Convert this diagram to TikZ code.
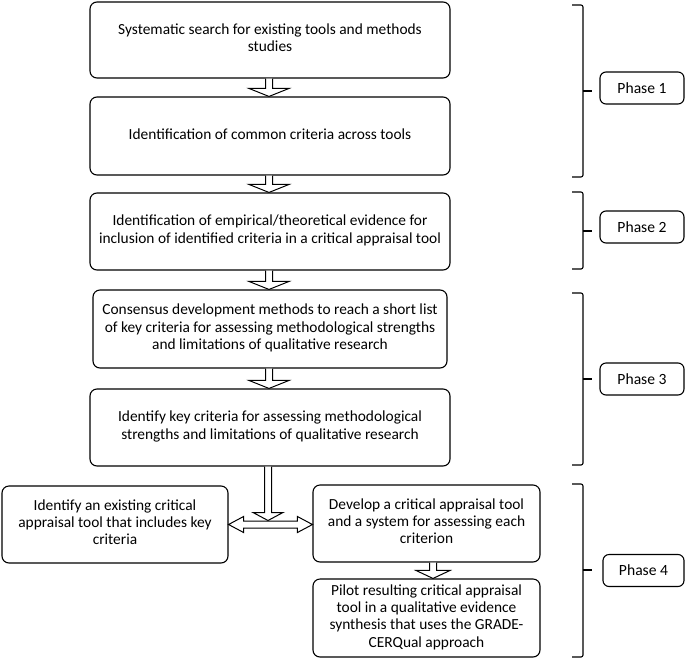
\documentclass[tikz,border=0pt]{standalone}
\usepackage{fontspec}
\setmainfont{Carlito}
\usetikzlibrary{calc}
\tikzset{
  box/.style={draw, rounded corners=7pt, line width=1.1pt, align=center,
    font=\fontsize{15.4}{17.3}\selectfont, inner sep=0pt,
    execute at end node={\rule[-4.5pt]{0pt}{0pt}}},
  phasebox/.style={draw, rounded corners=6pt, line width=1.1pt, align=center,
    font=\fontsize{15.6}{17.3}\selectfont, inner sep=0pt, minimum width=84pt, minimum height=32pt},
  blk/.style={draw, line width=1pt, fill=white, line join=miter},
  brace/.style={draw, line width=1.1pt, rounded corners=2pt}
}
\newcommand\vblk[3]{%
  \draw[blk] let \p1=(#1), \p2=(#2) in
   (\x1-3.5pt,\y1) -- (\x1-3.5pt,\y2+8pt) -- (\x1-#3,\y2+8pt) -- (\x1,\y2)
   -- (\x1+#3,\y2+8pt) -- (\x1+3.5pt,\y2+8pt) -- (\x1+3.5pt,\y1);}
\newcommand\phasebrace[3]{% top, bottom, tick (y values)
  \draw[brace] (572,#1) -- (583,#1) -- (583,#2) -- (572,#2);
  \draw[line width=1.1pt] (583,#3) -- (592,#3);}
\begin{document}
\begin{tikzpicture}[x=1pt,y=-1pt]
\useasboundingbox (0,0) rectangle (685,659);
% main column
\node[box, minimum width=360pt, minimum height=76pt] (b1) at (270,40)
  {Systematic search for existing tools and methods\\studies};
\node[box, minimum width=360pt, minimum height=78pt] (b2) at (270,136)
  {Identification of common criteria across tools};
\node[box, minimum width=360pt, minimum height=77pt] (b3) at (270,231.5)
  {Identification of empirical/theoretical evidence for\\inclusion of identified criteria in a critical appraisal tool};
\node[box, minimum width=354pt, minimum height=78pt] (b4) at (270,329)
  {Consensus development methods to reach a short list\\of key criteria for assessing methodological strengths\\and limitations of qualitative research};
\node[box, minimum width=360pt, minimum height=77pt] (b5) at (270,427.5)
  {Identify key criteria for assessing methodological\\strengths and limitations of qualitative research};
\node[box, minimum width=226pt, minimum height=77pt] (b6) at (115,524.5)
  {Identify an existing critical\\appraisal tool that includes key\\criteria};
\node[box, minimum width=227pt, minimum height=77pt] (b7) at (426.5,523.5)
  {Develop a critical appraisal tool\\and a system for assessing each\\criterion};
\node[box, minimum width=227pt, minimum height=78pt] (b8) at (426.5,618)
  {Pilot resulting critical appraisal\\tool in a qualitative evidence\\synthesis that uses the GRADE-\\CERQual approach};
% arrows
\coordinate (a1s) at ($(b1.south)+(-1,0)$); \coordinate (a1e) at ($(b2.north)+(-1,0)$);
\coordinate (a2s) at ($(b2.south)+(-1,0)$); \coordinate (a2e) at ($(b3.north)+(-1,0)$);
\coordinate (a3s) at ($(b3.south)+(-1,0)$); \coordinate (a3e) at ($(b4.north)+(-1,0)$);
\coordinate (a4s) at ($(b4.south)+(-1,0)$); \coordinate (a4e) at ($(b5.north)+(-1,0)$);
\coordinate (a6s) at ($(b7.south)+(6.5,0)$); \coordinate (a6e) at ($(b8.north)+(6.5,0)$);
\vblk{a1s}{a1e}{20pt}
\vblk{a2s}{a2e}{20pt}
\vblk{a3s}{a3e}{20pt}
\vblk{a4s}{a4e}{20pt}
\vblk{a6s}{a6e}{17pt}
% double arrow
\draw[blk] let \p1=(b6.east), \p2=(b7.west) in
  (\x1,\y1) -- (\x1+15pt,\y1+8pt) -- (\x1+15pt,\y1+3.5pt) -- (\x2-15pt,\y1+3.5pt)
  -- (\x2-15pt,\y1+8pt) -- (\x2,\y1) -- (\x2-15pt,\y1-8pt) -- (\x2-15pt,\y1-3.5pt)
  -- (\x1+15pt,\y1-3.5pt) -- (\x1+15pt,\y1-8pt) -- cycle;
\coordinate (a5s) at ($(b5.south)+(-2,0)$);
\coordinate (dtop) at ($(b6.east)!0.5!(b7.west)+(0,-3.5)$);
\coordinate (a5e) at (a5s |- dtop);
\vblk{a5s}{a5e}{15pt}
% phases
\node[phasebox] (p1) at (642,88) {Phase 1};
\node[phasebox] (p2) at (642,227) {Phase 2};
\node[phasebox] (p3) at (642,379) {Phase 3};
\node[phasebox, minimum width=81pt] (p4) at (643.5,570.5) {Phase 4};
\phasebrace{5}{177}{91}
\phasebrace{192}{269}{231}
\phasebrace{293}{465}{379}
\phasebrace{484}{657}{570}
\end{tikzpicture}
\end{document}
